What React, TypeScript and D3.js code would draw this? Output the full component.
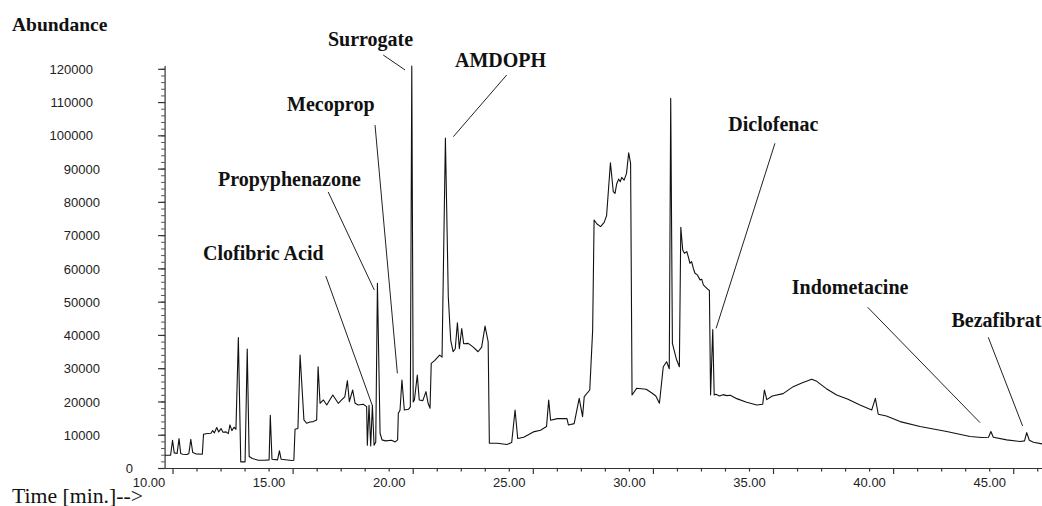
import React from 'react';
import * as d3 from 'd3';

// ---- chromatogram trace (retention time in min, abundance) ----
const retentionTime = [
  10.67, 10.90, 10.98, 11.05, 11.17, 11.25, 11.32, 11.40, 11.58, 11.66, 11.74, 11.82, 11.95, 12.22,
  12.27, 12.43, 12.58, 12.65, 12.72, 12.82, 12.90, 13.00, 13.08, 13.21, 13.30, 13.37, 13.45, 13.54, 13.62,
  13.72, 13.82, 13.86, 14.00, 14.09, 14.17, 14.30, 14.55, 14.80, 15.00, 15.05, 15.12, 15.35, 15.43, 15.50,
  15.95, 16.03, 16.08, 16.20, 16.29, 16.45, 16.56, 16.70, 16.84, 16.98, 17.04, 17.12, 17.26, 17.40, 17.65,
  17.88, 18.02, 18.15, 18.26, 18.34, 18.48, 18.58, 18.71, 18.92, 19.06, 19.09, 19.16, 19.23, 19.30, 19.37,
  19.44, 19.51, 19.62, 19.70, 19.85, 20.10, 20.25, 20.35, 20.38, 20.45, 20.53, 20.63, 20.80, 20.88, 20.94,
  21.00, 21.05, 21.17, 21.25, 21.40, 21.53, 21.62, 21.70, 21.75, 21.90, 22.10, 22.20, 22.34, 22.46, 22.56,
  22.66, 22.75, 22.84, 22.92, 23.02, 23.10, 23.29, 23.50, 23.70, 23.85, 23.99, 24.12, 24.17, 24.50, 24.90,
  25.10, 25.24, 25.35, 25.60, 26.00, 26.30, 26.55, 26.64, 26.72, 27.00, 27.40, 27.46, 27.70, 27.91, 28.05,
  28.12, 28.35, 28.47, 28.53, 28.65, 28.80, 28.95, 29.05, 29.21, 29.33, 29.40, 29.47, 29.55, 29.62, 29.68,
  29.78, 29.88, 29.97, 30.05, 30.11, 30.30, 30.70, 30.95, 31.10, 31.25, 31.41, 31.55, 31.66, 31.72, 31.79,
  31.95, 32.08, 32.14, 32.22, 32.29, 32.39, 32.45, 32.52, 32.59, 32.66, 32.73, 32.83, 32.94, 33.01, 33.08,
  33.15, 33.26, 33.33, 33.38, 33.47, 33.53, 33.60, 33.75, 33.90, 34.05, 34.20, 34.47, 34.85, 35.30, 35.55,
  35.62, 35.72, 35.95, 36.40, 36.82, 37.20, 37.59, 37.80, 38.20, 38.63, 39.10, 39.60, 40.09, 40.24, 40.36,
  40.70, 41.27, 42.10, 43.21, 44.18, 44.67, 44.95, 45.05, 45.15, 45.71, 46.26, 46.45, 46.54, 46.65, 46.82,
  47.18,
];
const abundance = [
  4000, 4000, 8500, 4700, 4500, 9000, 4500, 4300, 4200, 4500, 8800, 4800, 4400, 4300,
  10300, 10500, 10600, 11400, 10700, 12300, 11000, 12000, 10900, 11000, 10500, 13100, 11400, 12400, 11800,
  39400, 2000, 2000, 2000, 35900, 3600, 3000, 2500, 2500, 2600, 16000, 2800, 2600, 5300, 2800,
  2400, 2500, 11800, 12000, 34100, 14600, 13600, 14000, 14100, 14600, 30600, 19600, 20600, 19100, 22100,
  19600, 20600, 21500, 26400, 20100, 23600, 19600, 19100, 19300, 18600, 7000, 19000, 6800, 19000, 7000,
  8000, 55700, 10600, 8600, 8300, 8500, 8000, 8600, 16600, 17500, 26600, 17600, 17800, 18500, 121000,
  20000, 20600, 28100, 20600, 20400, 23100, 19600, 18100, 31600, 32500, 34100, 33500, 99300, 51600, 38600,
  35100, 36000, 43800, 36000, 42100, 37500, 37600, 36500, 35100, 36500, 42800, 38100, 7600, 7600, 7200,
  7800, 17600, 9000, 9400, 11000, 11500, 12600, 20600, 14500, 15000, 15000, 13100, 13500, 21100, 15600,
  21600, 23600, 41600, 74700, 73500, 72700, 74000, 76000, 91900, 83200, 82700, 85500, 87000, 86200, 87500,
  86700, 88700, 94900, 91700, 22100, 24100, 23800, 22600, 21800, 19600, 30600, 32100, 30000, 111300, 37600,
  33000, 30600, 72500, 65700, 64700, 65200, 63700, 61700, 62200, 60200, 58700, 58200, 56700, 56900, 55200,
  54700, 53900, 53500, 22100, 41800, 22100, 22300, 21800, 22200, 21900, 22000, 21000, 20000, 19100, 19300,
  23600, 20700, 21800, 22500, 24600, 25800, 26800, 26200, 24000, 22100, 20800, 19100, 17600, 21100, 16300,
  15800, 14100, 12600, 11100, 9600, 9300, 9400, 11100, 9400, 8600, 8100, 8300, 10800, 8500, 7900,
  7400,
];

// ---- axes ----
const yTickValues = d3.range(0, 120001, 10000);
const yMinorValues = d3.range(0, 120001, 2000);
const xLabelValues = [10, 15, 20, 25, 30, 35, 40, 45];
const xTickValues = d3.range(11, 48, 1);
const xLongTickValues = [11, 16, 21, 26, 31, 36, 41, 46];

// ---- compound annotations (data coordinates) ----
const annotationNames = ['Clofibric Acid', 'Propyphenazone', 'Mecoprop', 'Surrogate', 'AMDOPH', 'Diclofenac', 'Indometacine', 'Bezafibrat'];
const labelTime = [12.25, 12.87, 15.75, 17.45, 22.74, 34.12, 36.76, 43.41];
const labelAbund = [62680, 84920, 107460, 127000, 120780, 101540, 52360, 42620];
const leaderStartTime = [17.36, 17.46, 19.41, 19.75, 24.89, 36.06, 39.92, 44.94];
const leaderStartAbund = [57870, 83120, 103260, 124300, 118280, 97760, 48460, 39440];
const leaderEndTime = [19.30, 19.38, 20.34, 20.66, 22.67, 33.61, 44.60, 46.37];
const leaderEndAbund = [18880, 53660, 28620, 119800, 99740, 42140, 13770, 12780];

const W = 1042;
const H = 506;
const serif = '"Liberation Serif", "Times New Roman", serif';
const sans = '"Liberation Sans", Arial, sans-serif';

export default function App() {
  const x = d3.scaleLinear().domain([10, 45]).range([149, 989.7]);
  const y = d3.scaleLinear().domain([0, 120000]).range([468.5, 69.3]);
  const axisX = x(10.67);
  const axisY = y(0);
  const line = d3
    .line<number>()
    .x((_, i) => x(retentionTime[i]))
    .y((d) => y(d))
    .curve(d3.curveLinear);

  const yLabelRight = (v: number) => {
    const s = String(v);
    if (s.length === 1) return 133;
    if (s.length === 6) return 93;
    return 100;
  };

  return (
    <svg width={W} height={H} style={{ position: 'absolute', left: 0, top: 0, background: '#fff' }}>
      <rect width={W} height={H} fill="#fff" />
      <text x={12} y={31} fontFamily={serif} fontWeight="bold" fontSize={19.5} fill="#111">
        Abundance
      </text>
      <text x={12} y={503} fontFamily={serif} fontSize={20} fill="#111" textLength={131} lengthAdjust="spacingAndGlyphs">
        Time [min.]--&gt;
      </text>

      {/* Y axis */}
      <line x1={axisX} x2={axisX} y1={66} y2={axisY} stroke="#333" strokeWidth={1.2} />
      {yMinorValues.map((v) => (
        <line key={'ym' + v} x1={axisX - 4} x2={axisX} y1={y(v)} y2={y(v)} stroke="#555" strokeWidth={1} />
      ))}
      {yTickValues.map((v) => (
        <g key={'yt' + v}>
          <line x1={axisX - 7} x2={axisX} y1={y(v)} y2={y(v)} stroke="#333" strokeWidth={1.2} />
          <text x={yLabelRight(v)} y={y(v) + 4.6} textAnchor="end" fontFamily={sans} fontSize={13} fill="#222">
            {v}
          </text>
        </g>
      ))}

      {/* X axis */}
      <line x1={axisX} x2={W} y1={axisY} y2={axisY} stroke="#333" strokeWidth={1.2} />
      {xTickValues.map((t) => (
        <line
          key={'xt' + t}
          x1={x(t)}
          x2={x(t)}
          y1={axisY}
          y2={axisY + (xLongTickValues.includes(t) ? 5.5 : 3)}
          stroke="#333"
          strokeWidth={1.2}
        />
      ))}
      {xLabelValues.map((t) => (
        <text key={'xl' + t} x={x(t)} y={486.5} textAnchor="middle" fontFamily={sans} fontSize={13} fill="#222">
          {t.toFixed(2)}
        </text>
      ))}

      {/* trace */}
      <path d={line(abundance) || ''} fill="none" stroke="#111" strokeWidth={1.1} strokeLinejoin="round" />

      {/* annotations */}
      {annotationNames.map((name, i) => (
        <g key={name}>
          <line
            x1={x(leaderStartTime[i])}
            y1={y(leaderStartAbund[i])}
            x2={x(leaderEndTime[i])}
            y2={y(leaderEndAbund[i])}
            stroke="#222"
            strokeWidth={1}
          />
          <text x={x(labelTime[i])} y={y(labelAbund[i])} fontFamily={serif} fontWeight="bold" fontSize={20} fill="#111">
            {name}
          </text>
        </g>
      ))}
    </svg>
  );
}
